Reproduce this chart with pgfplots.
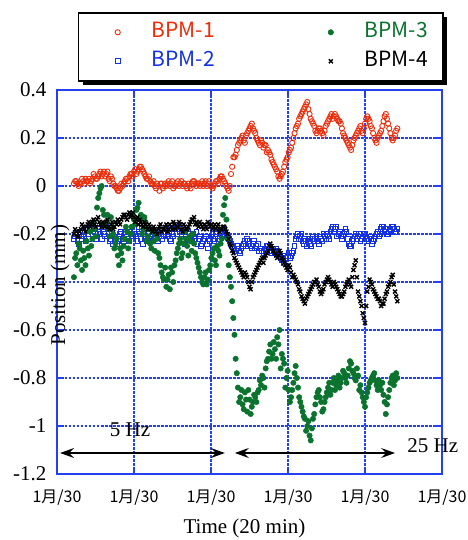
\documentclass[border=0pt]{standalone}
\usepackage{pgfplots}
\pgfplotsset{compat=1.18}
\usepackage{pgfplotstable}
\usepackage{fontspec}
\setmainfont{Liberation Serif}
\newfontfamily\jp{Noto Sans CJK JP}
\usetikzlibrary{shadows,arrows.meta}
\definecolor{bred}{RGB}{235,45,10}
\definecolor{bblue}{RGB}{20,50,225}
\definecolor{bgreen}{RGB}{10,115,45}
\definecolor{gridblue}{RGB}{35,65,240}

\pgfplotstableread{
x a b c d
0.22 0.01 -0.22 -0.38 -0.20
0.25 0.02 -0.20 -0.28 -0.19
0.28 0.00 -0.24 -0.24 -0.21
0.31 0.01 -0.21 -0.31 -0.18
0.34 0.02 -0.19 -0.27 -0.17
0.37 0.03 -0.23 -0.33 -0.19
0.40 0.02 -0.20 -0.26 -0.16
0.43 0.01 -0.18 -0.19 -0.17
0.46 0.03 -0.16 -0.22 -0.15
0.49 0.04 -0.19 -0.18 -0.16
0.52 0.03 -0.21 -0.09 -0.14
0.55 0.05 -0.18 -0.03 -0.15
0.58 0.04 -0.22 0.00 -0.17
0.61 0.06 -0.20 -0.12 -0.16
0.64 0.05 -0.17 -0.15 -0.15
0.67 0.03 -0.19 -0.18 -0.17
0.70 0.04 -0.22 -0.13 -0.16
0.73 0.01 -0.24 -0.20 -0.18
0.76 0.00 -0.21 -0.24 -0.15
0.79 -0.02 -0.23 -0.29 -0.14
0.82 -0.01 -0.20 -0.26 -0.16
0.85 0.00 -0.22 -0.31 -0.13
0.88 0.02 -0.19 -0.22 -0.12
0.91 0.03 -0.21 -0.19 -0.14
0.94 0.04 -0.23 -0.23 -0.11
0.97 0.05 -0.20 -0.17 -0.12
1.00 0.06 -0.18 -0.14 -0.13
1.03 0.05 -0.21 -0.10 -0.14
1.06 0.07 -0.19 -0.07 -0.16
1.09 0.08 -0.22 -0.12 -0.15
1.12 0.06 -0.24 -0.18 -0.17
1.15 0.04 -0.21 -0.15 -0.16
1.18 0.03 -0.20 -0.21 -0.18
1.21 0.02 -0.22 -0.24 -0.17
1.24 0.01 -0.23 -0.19 -0.19
1.27 0.00 -0.21 -0.27 -0.18
1.30 0.01 -0.19 -0.22 -0.20
1.33 -0.02 -0.20 -0.30 -0.17
1.36 0.01 -0.22 -0.36 -0.19
1.39 0.00 -0.21 -0.39 -0.18
1.42 0.00 -0.18 -0.42 -0.16
1.45 0.02 -0.20 -0.37 -0.18
1.48 0.01 -0.23 -0.34 -0.17
1.51 -0.01 -0.21 -0.40 -0.15
1.54 0.00 -0.17 -0.31 -0.18
1.57 0.02 -0.16 -0.26 -0.17
1.60 0.01 -0.19 -0.22 -0.16
1.63 0.00 -0.22 -0.28 -0.19
1.66 0.01 -0.24 -0.19 -0.17
1.69 -0.01 -0.22 -0.25 -0.18
1.72 0.00 -0.20 -0.21 -0.16
1.75 0.01 -0.23 -0.27 -0.14
1.78 0.02 -0.21 -0.24 -0.13
1.81 0.00 -0.19 -0.30 -0.15
1.84 0.01 -0.22 -0.34 -0.17
1.87 0.01 -0.25 -0.38 -0.16
1.90 0.00 -0.23 -0.41 -0.18
1.93 0.02 -0.21 -0.36 -0.17
1.96 0.01 -0.26 -0.39 -0.15
1.99 0.00 -0.23 -0.33 -0.17
2.02 -0.01 -0.20 -0.28 -0.18
2.05 0.01 -0.22 -0.31 -0.16
2.08 0.02 -0.19 -0.25 -0.17
2.11 0.03 -0.21 -0.29 -0.19
2.14 0.04 -0.20 -0.22 -0.18
2.17 0.02 -0.18 -0.08 -0.17
2.20 0.00 -0.21 -0.14 -0.19
2.23 -0.02 -0.22 -0.33 -0.22
2.26 0.05 -0.24 -0.42 -0.25
2.29 0.12 -0.25 -0.55 -0.28
2.32 0.13 -0.27 -0.72 -0.31
2.35 0.17 -0.26 -0.84 -0.33
2.38 0.19 -0.28 -0.88 -0.35
2.41 0.21 -0.25 -0.91 -0.37
2.44 0.18 -0.23 -0.86 -0.36
2.47 0.22 -0.22 -0.94 -0.38
2.50 0.24 -0.24 -0.89 -0.42
2.53 0.26 -0.26 -0.92 -0.40
2.56 0.23 -0.23 -0.87 -0.37
2.59 0.20 -0.25 -0.90 -0.35
2.62 0.18 -0.27 -0.85 -0.33
2.65 0.19 -0.26 -0.83 -0.31
2.68 0.16 -0.28 -0.80 -0.32
2.71 0.17 -0.27 -0.76 -0.29
2.74 0.15 -0.25 -0.72 -0.27
2.77 0.13 -0.27 -0.66 -0.24
2.80 0.10 -0.26 -0.70 -0.26
2.83 0.08 -0.28 -0.68 -0.28
2.86 0.06 -0.27 -0.63 -0.30
2.89 0.03 -0.29 -0.60 -0.27
2.92 0.05 -0.31 -0.70 -0.30
2.95 0.08 -0.32 -0.74 -0.32
2.98 0.11 -0.30 -0.80 -0.34
3.01 0.14 -0.28 -0.85 -0.33
3.04 0.16 -0.29 -0.88 -0.36
3.07 0.20 -0.27 -0.82 -0.37
3.10 0.24 -0.22 -0.75 -0.39
3.13 0.26 -0.20 -0.84 -0.41
3.16 0.29 -0.21 -0.90 -0.44
3.19 0.31 -0.23 -0.94 -0.47
3.22 0.33 -0.22 -0.97 -0.49
3.25 0.35 -0.25 -1.00 -0.46
3.28 0.30 -0.24 -1.04 -0.44
3.31 0.27 -0.22 -1.01 -0.42
3.34 0.25 -0.23 -0.95 -0.40
3.37 0.22 -0.21 -0.88 -0.39
3.40 0.24 -0.24 -0.85 -0.42
3.43 0.23 -0.22 -0.90 -0.45
3.46 0.21 -0.20 -0.93 -0.43
3.49 0.25 -0.22 -0.88 -0.40
3.52 0.27 -0.21 -0.84 -0.38
3.55 0.29 -0.19 -0.87 -0.40
3.58 0.28 -0.17 -0.82 -0.42
3.61 0.30 -0.18 -0.85 -0.41
3.64 0.28 -0.21 -0.81 -0.43
3.67 0.27 -0.19 -0.84 -0.45
3.70 0.24 -0.22 -0.80 -0.46
3.73 0.21 -0.20 -0.78 -0.44
3.76 0.19 -0.19 -0.82 -0.41
3.79 0.17 -0.24 -0.76 -0.39
3.82 0.15 -0.25 -0.74 -0.42
3.85 0.19 -0.22 -0.78 -0.35
3.88 0.21 -0.20 -0.81 -0.31
3.91 0.23 -0.21 -0.79 -0.44
3.94 0.25 -0.23 -0.83 -0.48
3.97 0.22 -0.21 -0.88 -0.53
4.00 0.26 -0.20 -0.92 -0.57
4.03 0.29 -0.22 -0.86 -0.44
4.06 0.27 -0.21 -0.82 -0.39
4.09 0.24 -0.24 -0.80 -0.41
4.12 0.20 -0.22 -0.78 -0.44
4.15 0.18 -0.20 -0.83 -0.46
4.18 0.21 -0.21 -0.81 -0.47
4.21 0.23 -0.18 -0.85 -0.50
4.24 0.27 -0.17 -0.87 -0.49
4.27 0.30 -0.19 -0.95 -0.45
4.30 0.26 -0.20 -0.88 -0.42
4.33 0.22 -0.18 -0.82 -0.40
4.36 0.19 -0.17 -0.79 -0.37
4.39 0.21 -0.19 -0.81 -0.44
4.42 0.24 -0.18 -0.80 -0.48
}\data

\pgfplotstableread{
x a b c d
0.235 0.02 -0.21 -0.30 -0.18
0.265 0.01 -0.23 -0.33 -0.21
0.295 0.01 -0.19 -0.26 -0.19
0.325 0.03 -0.22 -0.35 -0.16
0.355 0.01 -0.21 -0.30 -0.18
0.385 0.02 -0.18 -0.23 -0.17
0.415 0.03 -0.22 -0.29 -0.15
0.445 0.02 -0.17 -0.25 -0.16
0.475 0.05 -0.18 -0.15 -0.14
0.505 0.03 -0.22 -0.21 -0.17
0.535 0.04 -0.19 -0.05 -0.13
0.565 0.06 -0.20 -0.01 -0.16
0.595 0.05 -0.17 -0.10 -0.15
0.625 0.04 -0.21 -0.16 -0.17
0.655 0.06 -0.18 -0.12 -0.14
0.685 0.02 -0.23 -0.21 -0.18
0.715 0.03 -0.20 -0.17 -0.15
0.745 0.00 -0.22 -0.26 -0.17
0.775 -0.01 -0.24 -0.22 -0.16
0.805 -0.02 -0.21 -0.33 -0.15
0.835 0.01 -0.19 -0.28 -0.14
0.865 0.01 -0.23 -0.25 -0.12
0.895 0.03 -0.20 -0.17 -0.13
0.925 0.02 -0.22 -0.26 -0.12
0.955 0.05 -0.19 -0.20 -0.13
0.985 0.04 -0.21 -0.12 -0.11
1.015 0.07 -0.20 -0.16 -0.15
1.045 0.06 -0.23 -0.09 -0.13
1.075 0.08 -0.20 -0.14 -0.14
1.105 0.07 -0.18 -0.20 -0.16
1.135 0.05 -0.22 -0.13 -0.15
1.165 0.03 -0.23 -0.23 -0.17
1.195 0.04 -0.19 -0.18 -0.16
1.225 0.01 -0.21 -0.26 -0.18
1.255 0.02 -0.22 -0.23 -0.17
1.285 -0.01 -0.20 -0.20 -0.19
1.315 0.00 -0.23 -0.28 -0.18
1.345 0.01 -0.21 -0.33 -0.16
1.375 -0.01 -0.20 -0.38 -0.18
1.405 0.01 -0.19 -0.34 -0.17
1.435 0.01 -0.21 -0.39 -0.19
1.465 0.00 -0.22 -0.43 -0.16
1.495 0.02 -0.20 -0.36 -0.18
1.525 0.00 -0.18 -0.33 -0.16
1.555 0.01 -0.20 -0.28 -0.17
1.585 0.00 -0.18 -0.24 -0.15
1.615 0.02 -0.21 -0.30 -0.18
1.645 0.01 -0.23 -0.24 -0.16
1.675 0.00 -0.21 -0.22 -0.18
1.705 0.01 -0.19 -0.29 -0.17
1.735 -0.01 -0.22 -0.23 -0.15
1.765 0.02 -0.20 -0.20 -0.14
1.795 0.01 -0.22 -0.28 -0.16
1.825 0.01 -0.24 -0.32 -0.16
1.855 0.00 -0.21 -0.36 -0.15
1.885 0.02 -0.24 -0.40 -0.17
1.915 0.01 -0.22 -0.38 -0.16
1.945 0.00 -0.24 -0.41 -0.18
1.975 0.02 -0.22 -0.35 -0.16
2.005 0.00 -0.21 -0.30 -0.16
2.035 0.00 -0.23 -0.26 -0.17
2.065 0.02 -0.20 -0.33 -0.18
2.095 0.01 -0.22 -0.27 -0.16
2.125 0.04 -0.19 -0.24 -0.18
2.155 0.03 -0.21 -0.12 -0.17
2.185 0.01 -0.20 -0.05 -0.18
2.215 -0.01 -0.21 -0.22 -0.20
2.245 0.00 -0.23 -0.38 -0.24
2.275 0.08 -0.25 -0.48 -0.27
2.305 0.12 -0.26 -0.62 -0.30
2.335 0.15 -0.25 -0.78 -0.32
2.365 0.18 -0.27 -0.90 -0.34
2.395 0.20 -0.26 -0.85 -0.36
2.425 0.19 -0.24 -0.93 -0.38
2.455 0.21 -0.25 -0.89 -0.37
2.485 0.23 -0.23 -0.85 -0.40
2.515 0.25 -0.25 -0.95 -0.43
2.545 0.24 -0.24 -0.90 -0.38
2.575 0.22 -0.26 -0.88 -0.36
2.605 0.19 -0.24 -0.86 -0.34
2.635 0.17 -0.26 -0.81 -0.32
2.665 0.18 -0.27 -0.79 -0.30
2.695 0.17 -0.26 -0.84 -0.30
2.725 0.14 -0.25 -0.73 -0.28
2.755 0.14 -0.26 -0.69 -0.25
2.785 0.11 -0.28 -0.72 -0.25
2.815 0.09 -0.27 -0.65 -0.27
2.845 0.07 -0.26 -0.72 -0.29
2.875 0.04 -0.28 -0.66 -0.29
2.905 0.04 -0.30 -0.76 -0.28
2.935 0.06 -0.31 -0.72 -0.31
2.965 0.10 -0.29 -0.84 -0.33
2.995 0.12 -0.29 -0.77 -0.35
3.025 0.15 -0.30 -0.90 -0.34
3.055 0.18 -0.28 -0.85 -0.38
3.085 0.22 -0.25 -0.78 -0.38
3.115 0.25 -0.21 -0.80 -0.40
3.145 0.28 -0.22 -0.88 -0.43
3.175 0.30 -0.20 -0.92 -0.46
3.205 0.32 -0.24 -0.96 -0.48
3.235 0.34 -0.23 -1.02 -0.47
3.265 0.32 -0.22 -0.98 -0.45
3.295 0.28 -0.25 -1.06 -0.43
3.325 0.26 -0.21 -0.97 -0.41
3.355 0.23 -0.22 -0.91 -0.40
3.385 0.23 -0.23 -0.86 -0.41
3.415 0.24 -0.21 -0.88 -0.44
3.445 0.22 -0.23 -0.94 -0.44
3.475 0.23 -0.21 -0.90 -0.41
3.505 0.26 -0.20 -0.86 -0.39
3.535 0.28 -0.22 -0.82 -0.39
3.565 0.30 -0.18 -0.85 -0.41
3.595 0.29 -0.19 -0.80 -0.40
3.625 0.29 -0.17 -0.83 -0.42
3.655 0.27 -0.20 -0.79 -0.44
3.685 0.26 -0.21 -0.82 -0.46
3.715 0.22 -0.21 -0.77 -0.45
3.745 0.20 -0.18 -0.80 -0.42
3.775 0.18 -0.22 -0.79 -0.40
3.805 0.16 -0.25 -0.73 -0.41
3.835 0.17 -0.23 -0.77 -0.38
3.865 0.20 -0.21 -0.80 -0.33
3.895 0.22 -0.22 -0.76 -0.38
3.925 0.24 -0.20 -0.85 -0.46
3.955 0.23 -0.22 -0.86 -0.50
3.985 0.24 -0.20 -0.90 -0.55
4.015 0.28 -0.21 -0.88 -0.50
4.045 0.28 -0.23 -0.84 -0.42
4.075 0.25 -0.22 -0.81 -0.40
4.105 0.22 -0.23 -0.79 -0.43
4.135 0.19 -0.21 -0.81 -0.45
4.165 0.20 -0.19 -0.85 -0.47
4.195 0.22 -0.20 -0.83 -0.48
4.225 0.25 -0.17 -0.82 -0.49
4.255 0.29 -0.18 -0.90 -0.47
4.285 0.28 -0.20 -0.91 -0.44
4.315 0.24 -0.19 -0.85 -0.41
4.345 0.20 -0.17 -0.80 -0.38
4.375 0.20 -0.18 -0.83 -0.41
4.405 0.23 -0.19 -0.78 -0.46
}\datb

\begin{document}
\begin{tikzpicture}
\useasboundingbox (-57pt,-66pt) rectangle (410pt,474pt);
\begin{axis}[
  scale only axis, width=385pt, height=384pt,
  xmin=0, xmax=5, ymin=-1.2, ymax=0.4,
  clip mode=individual,
  xtick={0,1,2,3,4,5},
  xticklabels={1月/30,1月/30,1月/30,1月/30,1月/30,1月/30},
  ytick={-1.2,-1,-0.8,-0.6,-0.4,-0.2,0,0.2,0.4},
  yticklabels={-1.2,-1,-0.8,-0.6,-0.4,-0.2,0,0.2,0.4},
  xticklabel style={font=\jp\fontsize{16}{16}\selectfont, yshift=-12pt},
  yticklabel style={font=\fontsize{21}{21}\selectfont, xshift=-7pt},
  grid=major,
  grid style={gridblue, line width=1.1pt, dash pattern=on 2.5pt off 1.5pt},
  major grid style={gridblue, line width=1.1pt, dash pattern=on 2.5pt off 1.5pt},
  axis line style={gridblue, line width=1.6pt},
  tick style={gridblue, line width=1.1pt},
  tick align=inside, major tick length=7pt,
  xlabel={Time (20 min)},
  xlabel style={at={(rel axis cs:0.487,0)}, anchor=center, yshift=-54pt, font=\fontsize{21}{21}\selectfont},
  ylabel={Position (mm)},
  ylabel style={at={(rel axis cs:0.008,0.492)}, anchor=center, font=\fontsize{21}{21}\selectfont},
  legend columns=2, transpose legend, legend cell align=left,
  legend image code/.code={\pgfpathmoveto{\pgfqpoint{-26pt}{0pt}}\pgfpathlineto{\pgfqpoint{3pt}{0pt}}\pgfusepath{discard}\draw[#1] plot coordinates {(0pt,0pt)};},
  legend style={at={(0.0545,1.203)}, anchor=north west, draw=black, line width=1.5pt, fill=white,
    drop shadow={shadow xshift=4pt, shadow yshift=-4pt, fill=black, opacity=1},
    inner xsep=13pt, inner ysep=8pt, row sep=6pt,
    font=\jp\fontsize{21}{21}\selectfont,
    nodes={inner sep=2pt, text height=15pt, text depth=4pt},
    /tikz/column 1/.style={column sep=29pt},
    /tikz/column 2/.style={column sep=88pt},
    /tikz/column 3/.style={column sep=29pt}},
]
\addplot[only marks, mark=o, mark size=2.6pt, color=bred, mark options={line width=0.9pt}] table[x=x,y=a] {\data};
\addlegendentry{\textcolor{bred}{BPM-1}}
\addplot[forget plot, only marks, mark=o, mark size=2.6pt, color=bred, mark options={line width=0.9pt}] table[x=x,y=a] {\datb};
\addplot[only marks, mark=square, mark size=2.4pt, color=bblue, mark options={line width=0.9pt}] table[x=x,y=b] {\data};
\addlegendentry{\textcolor{bblue}{BPM-2}}
\addplot[forget plot, only marks, mark=square, mark size=2.4pt, color=bblue, mark options={line width=0.9pt}] table[x=x,y=b] {\datb};
\addplot[only marks, mark=*, mark size=2.7pt, color=bgreen, mark options={line width=0.5pt, fill=bgreen}] table[x=x,y=c] {\data};
\addlegendentry{\textcolor{bgreen}{BPM-3}}
\addplot[forget plot, only marks, mark=*, mark size=2.7pt, color=bgreen, mark options={line width=0.5pt, fill=bgreen}] table[x=x,y=c] {\datb};
\addplot[only marks, mark=x, mark size=2.8pt, color=black, mark options={line width=1.4pt}] table[x=x,y=d] {\data};
\addlegendentry{BPM-4}
\addplot[forget plot, only marks, mark=x, mark size=2.8pt, color=black, mark options={line width=1.4pt}] table[x=x,y=d] {\datb};
\draw[{Stealth[length=14pt,width=10pt,inset=5pt]}-{Stealth[length=14pt,width=10pt,inset=5pt]}, line width=1.2pt] (axis cs:0.04,-1.1125) -- (axis cs:2.18,-1.1125);
\draw[{Stealth[length=14pt,width=10pt,inset=5pt]}-{Stealth[length=14pt,width=10pt,inset=5pt]}, line width=1.2pt] (axis cs:2.31,-1.1125) -- (axis cs:4.39,-1.1125);
\node[font=\fontsize{21}{21}\selectfont] at (axis cs:0.948,-1.017) {5 Hz};
\node[font=\fontsize{21}{21}\selectfont] at (axis cs:4.88,-1.083) {25 Hz};
\end{axis}
\end{tikzpicture}
\end{document}
